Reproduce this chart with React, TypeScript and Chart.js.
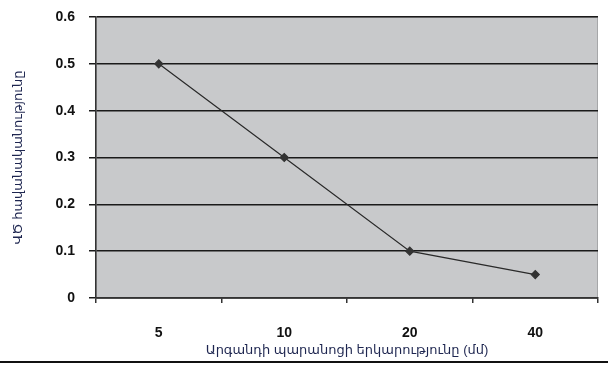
import React, { useEffect, useRef } from "react";
import { Chart, registerables } from "chart.js";

Chart.register(...registerables);

const categories = ["5", "10", "20", "40"];
const probability = [0.5, 0.3, 0.1, 0.05];
const yTicks = [0, 0.1, 0.2, 0.3, 0.4, 0.5, 0.6];
const xTitle = "Արգանդի պարանոցի երկարությունը (մմ)";
const yTitle = "ՎԾ հավանականությունը";

const FONT = "'Liberation Sans', Arial, 'DejaVu Sans', sans-serif";

const backgroundPlugin = {
  id: "plotBg",
  beforeDraw(chart: any) {
    const { ctx, chartArea } = chart;
    const { left, top, right, bottom } = chartArea;
    ctx.save();
    ctx.fillStyle = "#c8c9cb";
    ctx.fillRect(left, top, right - left, bottom - top);
    ctx.strokeStyle = "#a6a7a9";
    ctx.lineWidth = 1;
    ctx.strokeRect(left + 0.5, top + 0.5, right - left - 1, bottom - top);
    ctx.restore();
  },
  afterDraw(chart: any) {
    const { ctx, width } = chart;
    ctx.save();
    ctx.strokeStyle = "#111";
    ctx.lineWidth = 2;
    ctx.beginPath();
    ctx.moveTo(0, 362);
    ctx.lineTo(width, 362);
    ctx.stroke();
    ctx.restore();
  },
};

export default function App() {
  const ref = useRef<HTMLCanvasElement | null>(null);
  useEffect(() => {
    if (!ref.current) return;
    const chart = new Chart(ref.current, {
      type: "line",
      data: {
        labels: categories,
        datasets: [
          {
            data: probability,
            borderColor: "#2a2a2a",
            backgroundColor: "#333",
            borderWidth: 1.2,
            pointStyle: "rectRot",
            pointRadius: 4,
            pointBackgroundColor: "#333",
            pointBorderColor: "#333",
            tension: 0,
          },
        ],
      },
      options: {
        animation: false,
        responsive: false,
        maintainAspectRatio: false,
        layout: { padding: { left: 8, right: 10, top: 17, bottom: 7 } },
        plugins: { legend: { display: false }, tooltip: { enabled: false } },
        scales: {
          x: {
            type: "category",
            offset: true,
            grid: {
              offset: true,
              drawOnChartArea: false,
              drawTicks: true,
              tickLength: 5,
              color: "#333",
              lineWidth: 1.5,
            },
            border: { display: true, color: "#333", width: 1.5 },
            ticks: {
              color: "#111",
              padding: 22,
              font: { family: FONT, size: 14, weight: "bold" },
            },
            title: {
              display: true,
              text: xTitle,
              color: "#1e2650",
              padding: { top: 0, bottom: 0 },
              font: { family: FONT, size: 13 },
            },
            afterFit(scale: any) {
              scale.height = 60;
              scale.paddingLeft = 0;
              scale.paddingRight = 0;
            },
          },
          y: {
            min: 0,
            max: 0.6,
            afterBuildTicks(scale: any) {
              scale.ticks = yTicks.map((v) => ({ value: v }));
            },
            grid: {
              color: "#1a1a1a",
              lineWidth: 1.5,
              drawTicks: true,
              tickLength: 7,
            },
            border: { display: true, color: "#333", width: 1.5 },
            ticks: {
              color: "#111",
              padding: 14,
              font: { family: FONT, size: 14, weight: "bold" },
              callback: (v: any) => (Number(v) === 0 ? "0" : Number(v).toFixed(1)),
            },
            title: {
              display: true,
              text: yTitle,
              color: "#1e2650",
              padding: { top: 3, bottom: 0 },
              font: { family: FONT, size: 13 },
            },
            afterFit(scale: any) {
              scale.width = 88;
              scale.paddingTop = 0;
              scale.paddingBottom = 0;
            },
          },
        },
      },
      plugins: [backgroundPlugin],
    });
    return () => chart.destroy();
  }, []);
  return (
    <div style={{ position: "absolute", left: 0, top: 0, width: 608, height: 365, background: "#fff" }}>
      <canvas ref={ref} width={608} height={365} style={{ display: "block" }} />
    </div>
  );
}
